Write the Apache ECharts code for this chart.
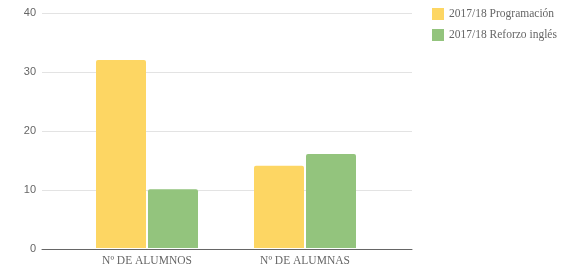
<!DOCTYPE html>
<html>
<head>
<meta charset="utf-8">
<script src="https://cdn.jsdelivr.net/npm/echarts@6/dist/echarts.min.js"></script>
<style>
  html, body { margin: 0; padding: 0; background: #fff; }
  #chart { width: 573px; height: 267px; }
</style>
</head>
<body>
<div id="chart"></div>
<script>
const categories = ['Nº DE ALUMNOS', 'Nº DE ALUMNAS']
const seriesNames = ['2017/18 Programación', '2017/18 Reforzo inglés']
const programacion = [32, 14]
const reforzo = [10, 16]
const yTicks = [0, 10, 20, 30, 40]

const chart = echarts.init(document.getElementById('chart'))

const yMax = yTicks[yTicks.length - 1]

chart.setOption({
  animation: false,
  legend: {
    orient: 'vertical',
    left: 427,
    top: 3,
    itemWidth: 12,
    itemHeight: 12,
    itemGap: 9,
    icon: 'rect',
    textStyle: { color: '#666', fontSize: 11.5, fontFamily: 'Liberation Serif' },
    data: seriesNames,
  },
  grid: [
    // background grid: gridlines and y labels
    { left: 42, right: 161, top: 13, bottom: 18 },
    // bars
    { left: 68, right: 189, top: 13, bottom: 18 },
  ],
  xAxis: [
    {
      gridIndex: 0,
      type: 'category',
      data: [''],
      axisLine: { lineStyle: { color: '#666', width: 1 } },
      axisTick: { show: false },
      axisLabel: { show: false },
    },
    {
      gridIndex: 1,
      type: 'category',
      data: categories,
      axisLine: { show: false },
      axisTick: { show: false },
      axisLabel: { color: '#666', fontSize: 11.5, fontFamily: 'Liberation Serif', margin: 7 },
    },
  ],
  yAxis: [
    {
      gridIndex: 0,
      type: 'value',
      min: 0,
      max: yMax,
      interval: 10,
      axisLabel: { color: '#666', fontSize: 11, fontFamily: 'Liberation Sans', margin: 6 },
      axisLine: { show: false },
      axisTick: { show: false },
      splitLine: { lineStyle: { color: '#e3e3e3', width: 1 } },
    },
    {
      gridIndex: 1,
      type: 'value',
      min: 0,
      max: yMax,
      show: false,
    },
  ],
  series: [
    {
      name: seriesNames[0],
      type: 'bar',
      xAxisIndex: 1,
      yAxisIndex: 1,
      data: programacion,
      barWidth: 50,
      barGap: '4%',
      itemStyle: { color: '#fdd663', borderRadius: [2, 2, 0, 0] },
    },
    {
      name: seriesNames[1],
      type: 'bar',
      xAxisIndex: 1,
      yAxisIndex: 1,
      data: reforzo,
      barWidth: 50,
      barGap: '4%',
      itemStyle: { color: '#93c47d', borderRadius: [2, 2, 0, 0] },
    },
  ],
})
</script>
</body>
</html>
